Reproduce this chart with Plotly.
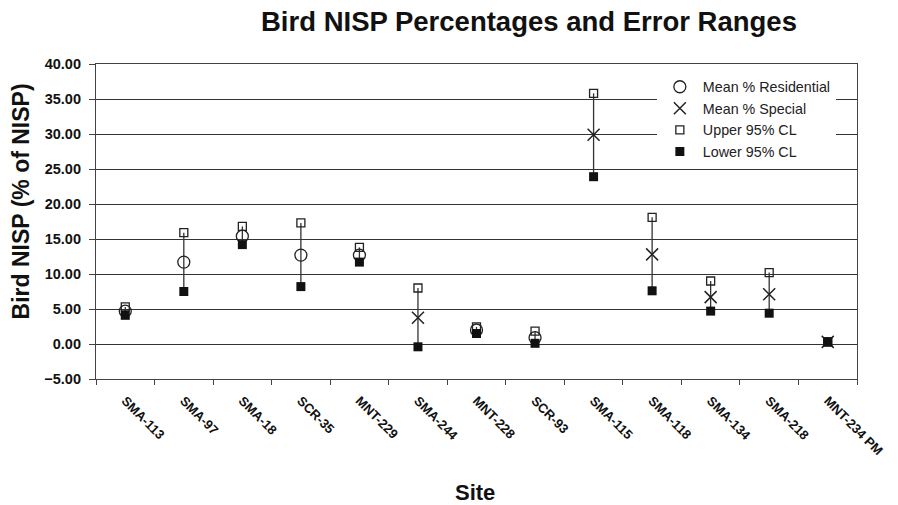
import plotly.graph_objects as go

sites = ["SMA-113", "SMA-97", "SMA-18", "SCR-35", "MNT-229", "SMA-244", "MNT-228",
         "SCR-93", "SMA-115", "SMA-118", "SMA-134", "SMA-218", "MNT-234 PM"]
mean_res = [4.7, 11.7, 15.4, 12.7, 12.7, None, 2.0, 0.9, None, None, None, None, None]
mean_spec = [None, None, None, None, None, 3.75, None, None, 29.9, 12.8, 6.7, 7.1, 0.3]
upper = [5.3, 15.9, 16.8, 17.3, 13.8, 8.0, 2.45, 1.85, 35.8, 18.1, 9.0, 10.2, 0.35]
lower = [4.1, 7.5, 14.2, 8.2, 11.7, -0.4, 1.5, 0.1, 23.9, 7.6, 4.7, 4.4, 0.25]

FONT = "Arial, 'Liberation Sans', sans-serif"
INK = "#222222"

# connecting range lines
lx, ly = [], []
for s, u, l in zip(sites, upper, lower):
    lx += [s, s, None]
    ly += [l, u, None]

fig = go.Figure()
fig.add_trace(go.Scatter(x=lx, y=ly, mode="lines", line=dict(color="#333333", width=1.3),
                         showlegend=False, hoverinfo="skip"))
fig.add_trace(go.Scatter(x=sites, y=mean_res, mode="markers", name="Mean % Residential",
                         marker=dict(symbol="circle-open", size=12, color=INK, line=dict(width=1.3))))
fig.add_trace(go.Scatter(x=sites, y=mean_spec, mode="markers", name="Mean % Special",
                         marker=dict(symbol="x-thin-open", size=12, color=INK, line=dict(width=1.5))))
fig.add_trace(go.Scatter(x=sites, y=upper, mode="markers", name="Upper 95% CL",
                         marker=dict(symbol="square-open", size=8, color=INK, line=dict(width=1.3))))
fig.add_trace(go.Scatter(x=sites, y=lower, mode="markers", name="Lower 95% CL",
                         marker=dict(symbol="square", size=9, color="#111111")))

fig.update_layout(
    width=898, height=505,
    margin=dict(l=96, r=37, t=64, b=126),
    paper_bgcolor="white", plot_bgcolor="white",
    font=dict(family=FONT, color="#111111"),
    showlegend=True,
    legend=dict(x=0.737, y=0.978, xanchor="left", yanchor="top",
                bgcolor="white", borderwidth=0, font=dict(size=14.3, color="#222222"),
                tracegroupgap=0, itemwidth=36),
    annotations=[
        dict(text="<b>Bird NISP Percentages and Error Ranges</b>", xref="paper", yref="paper",
             x=(531 - 96) / 765, y=1 + (64 - 21) / 315, xanchor="center", yanchor="middle",
             showarrow=False, font=dict(size=27.5, family=FONT, color="#111111")),
        dict(text="<b>Bird NISP (% of NISP)</b>", xref="paper", yref="paper",
             x=-(96 - 21) / 765, y=(379 - 201) / 315, xanchor="center", yanchor="middle",
             textangle=-90, showarrow=False, font=dict(size=23, family=FONT, color="#111111")),
        dict(text="<b>Site</b>", xref="paper", yref="paper",
             x=(477 - 96) / 765, y=-(492 - 379) / 315, xanchor="center", yanchor="middle",
             showarrow=False, font=dict(size=22, family=FONT, color="#111111")),
    ],
)

fig.update_xaxes(
    type="category", categoryorder="array", categoryarray=sites,
    range=[-0.5, len(sites) - 0.5],
    showgrid=False, showline=True, linecolor="#444444", linewidth=1.2, mirror=True,
    ticks="outside", tickson="boundaries", ticklen=5, tickcolor="#444444",
    ticklabelstandoff=8,
    tickangle=45, tickfont=dict(size=13, family=FONT, color="#111111", weight="bold"),
)
fig.update_yaxes(
    range=[-5, 40], dtick=5, tick0=0, tickformat=".2f",
    showgrid=True, gridcolor="#333333", gridwidth=1.2, zeroline=False,
    showline=True, linecolor="#444444", linewidth=1.2, mirror=True,
    ticks="outside", ticklen=6, tickcolor="#444444", ticklabelstandoff=5,
    tickfont=dict(size=14.5, family=FONT, color="#111111", weight="bold"),
)

fig.write_html("out.html", config={"displayModeBar": False},
               post_script="document.body.style.margin='0px';document.body.style.padding='0px';")
